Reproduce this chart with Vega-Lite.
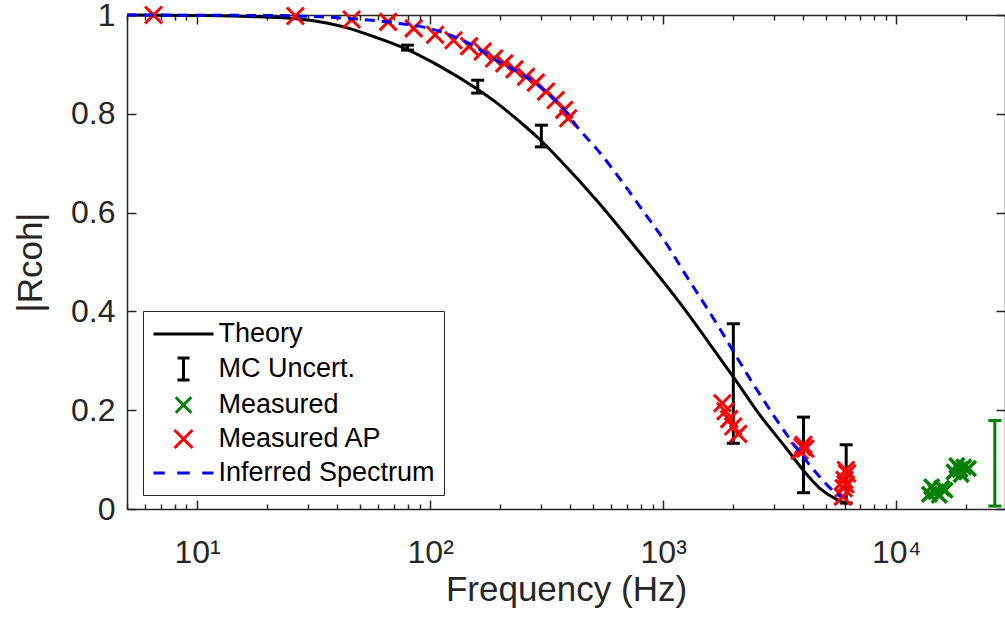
{
  "$schema": "https://vega.github.io/schema/vega-lite/v6.json",
  "width": 878,
  "height": 494,
  "autosize": {"type": "none"},
  "padding": {"left": 127, "top": 15, "right": 0, "bottom": 114},
  "background": "white",
  "config": {
    "view": {"stroke": null},
    "font": "Liberation Sans",
    "axis": {"grid": false, "domainColor": "#262626", "domainWidth": 1.5, "tickColor": "#262626", "tickWidth": 1.5, "labelColor": "#262626", "labelFont": "Liberation Sans", "labelFontSize": 32, "titleFont": "Liberation Sans", "titleFontWeight": "normal", "titleColor": "#262626", "titleFontSize": 35, "labelOverlap": false, "labelFlush": false, "labelBound": false}
  },
  "datasets": {
    "theory": [
      {"f": 5, "v": 1.0}, {"f": 10, "v": 0.999}, {"f": 16.7, "v": 0.997}, {"f": 27.4, "v": 0.992}, {"f": 36, "v": 0.984},
      {"f": 44.9, "v": 0.973}, {"f": 57.5, "v": 0.956}, {"f": 77.3, "v": 0.933}, {"f": 109.3, "v": 0.897}, {"f": 159, "v": 0.85},
      {"f": 198, "v": 0.818}, {"f": 241, "v": 0.785}, {"f": 294, "v": 0.749}, {"f": 358, "v": 0.708}, {"f": 531, "v": 0.619},
      {"f": 736, "v": 0.538}, {"f": 1206, "v": 0.411},
      {"f": 1574, "v": 0.336}, {"f": 2017, "v": 0.265}, {"f": 2583, "v": 0.192}, {"f": 3373, "v": 0.123}, {"f": 3953, "v": 0.081},
      {"f": 4677, "v": 0.043}, {"f": 5524, "v": 0.02}, {"f": 6166, "v": 0.011}
    ],
    "inferred": [
      {"f": 5, "v": 1.0}, {"f": 10, "v": 0.9995}, {"f": 20, "v": 0.999}, {"f": 27, "v": 0.998}, {"f": 45, "v": 0.993},
      {"f": 74, "v": 0.983}, {"f": 99, "v": 0.973}, {"f": 150, "v": 0.94}, {"f": 198, "v": 0.905}, {"f": 258, "v": 0.875},
      {"f": 314, "v": 0.845}, {"f": 376, "v": 0.808}, {"f": 435, "v": 0.769}, {"f": 514, "v": 0.731}, {"f": 692, "v": 0.652},
      {"f": 815, "v": 0.605}, {"f": 1062, "v": 0.528}, {"f": 1211, "v": 0.484}, {"f": 1549, "v": 0.405}, {"f": 1797, "v": 0.356},
      {"f": 1982, "v": 0.322}, {"f": 2583, "v": 0.234}, {"f": 3362, "v": 0.153}, {"f": 4093, "v": 0.099}, {"f": 4700, "v": 0.065},
      {"f": 5330, "v": 0.038}, {"f": 5790, "v": 0.025}
    ],
    "ap": [
      {"f": 6.5, "v": 1.0}, {"f": 26.4, "v": 0.998}, {"f": 46, "v": 0.991}, {"f": 66, "v": 0.986}, {"f": 85, "v": 0.973},
      {"f": 105, "v": 0.96}, {"f": 126, "v": 0.949}, {"f": 147, "v": 0.937}, {"f": 168, "v": 0.926}, {"f": 188, "v": 0.912},
      {"f": 208, "v": 0.902}, {"f": 230, "v": 0.89}, {"f": 258, "v": 0.875}, {"f": 284, "v": 0.863}, {"f": 314, "v": 0.845},
      {"f": 346, "v": 0.828}, {"f": 376, "v": 0.808}, {"f": 391, "v": 0.791},
      {"f": 1795, "v": 0.214}, {"f": 1850, "v": 0.198}, {"f": 1920, "v": 0.182}, {"f": 1997, "v": 0.167}, {"f": 2100, "v": 0.152},
      {"f": 3850, "v": 0.118}, {"f": 3963, "v": 0.125}, {"f": 4080, "v": 0.122}, {"f": 4000, "v": 0.13},
      {"f": 5900, "v": 0.025}, {"f": 5950, "v": 0.042}, {"f": 6000, "v": 0.059}, {"f": 6080, "v": 0.079}, {"f": 6150, "v": 0.072}, {"f": 6050, "v": 0.05}
    ],
    "measured": [
      {"f": 13900, "v": 0.03}, {"f": 14200, "v": 0.045}, {"f": 14800, "v": 0.035}, {"f": 15300, "v": 0.028}, {"f": 15700, "v": 0.042},
      {"f": 16200, "v": 0.038}, {"f": 17700, "v": 0.075}, {"f": 18200, "v": 0.088}, {"f": 18800, "v": 0.08}, {"f": 19000, "v": 0.07},
      {"f": 19500, "v": 0.085}, {"f": 20400, "v": 0.082}
    ],
    "mc": [
      {"f": 80, "lo": 0.929, "hi": 0.939},
      {"f": 160, "lo": 0.842, "hi": 0.868},
      {"f": 300, "lo": 0.733, "hi": 0.777},
      {"f": 2000, "lo": 0.133, "hi": 0.375},
      {"f": 4000, "lo": 0.033, "hi": 0.186},
      {"f": 6100, "lo": 0.012, "hi": 0.13}
    ],
    "merr": [
      {"f": 26500, "lo": 0.006, "hi": 0.179}
    ],
    "legend": [
      {"s": "Theory"}, {"s": "MC Uncert."}, {"s": "Measured"}, {"s": "Measured AP"}, {"s": "Inferred Spectrum"}
    ]
  },
  "layer": [
    {
      "data": {"name": "theory"},
      "mark": {"type": "line", "color": "black", "strokeWidth": 3, "interpolate": "monotone"},
      "encoding": {
        "x": {"field": "f", "type": "quantitative", "scale": {"type": "log", "domain": [5, 29300], "nice": false},
          "axis": {"orient": "bottom", "title": "Frequency (Hz)",
            "values": [5,6,7,8,9,10,20,30,40,50,60,70,80,90,100,200,300,400,500,600,700,800,900,1000,2000,3000,4000,5000,6000,7000,8000,9000,10000,20000],
            "labelExpr": "datum.value == 10 ? '10¹' : datum.value == 100 ? '10²' : datum.value == 1000 ? '10³' : datum.value == 10000 ? '10⁴' : ''",
            "tickSize": {"condition": {"test": "datum.value == 10 || datum.value == 100 || datum.value == 1000 || datum.value == 10000", "value": -9}, "value": -5},
            "labelPadding": 37, "titlePadding": 0}},
        "y": {"field": "v", "type": "quantitative", "scale": {"domain": [0, 1], "nice": false},
          "axis": {"orient": "left", "title": "|Rcoh|", "values": [0, 0.2, 0.4, 0.6, 0.8, 1], "format": "~g", "tickSize": -9, "labelPadding": 21, "titlePadding": 22}}
      }
    },
    {
      "data": {"name": "theory"},
      "mark": {"type": "line", "opacity": 0},
      "encoding": {
        "x": {"field": "f", "type": "quantitative",
          "axis": {"orient": "top", "title": null, "labels": false,
            "values": [5,6,7,8,9,10,20,30,40,50,60,70,80,90,100,200,300,400,500,600,700,800,900,1000,2000,3000,4000,5000,6000,7000,8000,9000,10000,20000],
            "tickSize": {"condition": {"test": "datum.value == 10 || datum.value == 100 || datum.value == 1000 || datum.value == 10000", "value": -9}, "value": -5}}},
        "y": {"field": "v", "type": "quantitative",
          "axis": {"orient": "right", "title": null, "labels": false, "values": [0, 0.2, 0.4, 0.6, 0.8, 1], "tickSize": -9}}
      }
    },
    {
      "data": {"name": "mc"},
      "mark": {"type": "rule", "color": "black", "strokeWidth": 3},
      "encoding": {"x": {"field": "f", "type": "quantitative", "axis": null}, "y": {"field": "lo", "type": "quantitative", "axis": null}, "y2": {"field": "hi"}}
    },
    {
      "data": {"name": "mc"},
      "mark": {"type": "point", "shape": "stroke", "color": "black", "strokeWidth": 3, "size": 169, "opacity": 1},
      "encoding": {"x": {"field": "f", "type": "quantitative", "axis": null}, "y": {"field": "lo", "type": "quantitative", "axis": null}}
    },
    {
      "data": {"name": "mc"},
      "mark": {"type": "point", "shape": "stroke", "color": "black", "strokeWidth": 3, "size": 169, "opacity": 1},
      "encoding": {"x": {"field": "f", "type": "quantitative", "axis": null}, "y": {"field": "hi", "type": "quantitative", "axis": null}}
    },
    {
      "data": {"name": "merr"},
      "mark": {"type": "rule", "color": "#008000", "strokeWidth": 3},
      "encoding": {"x": {"field": "f", "type": "quantitative", "axis": null}, "y": {"field": "lo", "type": "quantitative", "axis": null}, "y2": {"field": "hi"}}
    },
    {
      "data": {"name": "merr"},
      "mark": {"type": "point", "shape": "stroke", "color": "#008000", "strokeWidth": 3, "size": 169, "opacity": 1},
      "encoding": {"x": {"field": "f", "type": "quantitative", "axis": null}, "y": {"field": "lo", "type": "quantitative", "axis": null}}
    },
    {
      "data": {"name": "merr"},
      "mark": {"type": "point", "shape": "stroke", "color": "#008000", "strokeWidth": 3, "size": 169, "opacity": 1},
      "encoding": {"x": {"field": "f", "type": "quantitative", "axis": null}, "y": {"field": "hi", "type": "quantitative", "axis": null}}
    },
    {
      "data": {"name": "measured"},
      "mark": {"type": "point", "shape": "M-1,-1L1,1M-1,1L1,-1", "filled": false, "color": "#008000", "strokeWidth": 3.5, "size": 225, "opacity": 1},
      "encoding": {"x": {"field": "f", "type": "quantitative", "axis": null}, "y": {"field": "v", "type": "quantitative", "axis": null}}
    },
    {
      "data": {"name": "ap"},
      "mark": {"type": "point", "shape": "M-1,-1L1,1M-1,1L1,-1", "filled": false, "color": "#ff0000", "strokeWidth": 3, "size": 289, "opacity": 1},
      "encoding": {"x": {"field": "f", "type": "quantitative", "axis": null}, "y": {"field": "v", "type": "quantitative", "axis": null}}
    },
    {
      "data": {"name": "inferred"},
      "mark": {"type": "line", "color": "#0000ff", "strokeWidth": 3, "strokeDash": [10, 7], "interpolate": "monotone"},
      "encoding": {"x": {"field": "f", "type": "quantitative", "axis": null}, "y": {"field": "v", "type": "quantitative", "axis": null}}
    },
    {
      "data": {"name": "legend"},
      "mark": {"type": "point", "filled": false, "opacity": 0, "strokeWidth": 3},
      "encoding": {
        "color": {"field": "s", "type": "nominal",
          "scale": {"domain": ["Theory", "MC Uncert.", "Measured", "Measured AP", "Inferred Spectrum"], "range": ["#000000", "#000000", "#008000", "#ff0000", "#0000ff"]},
          "legend": {"orient": "none", "legendX": 16, "legendY": 296, "title": null, "symbolSize": 625, "symbolOffset": 17.5, "labelOffset": 21,
            "symbolStrokeWidth": 3, "symbolOpacity": 1, "symbolFillColor": "transparent", "labelFontSize": 27, "labelFont": "Liberation Sans", "labelColor": "#000000",
            "rowPadding": 5, "padding": 9, "strokeColor": "#262626", "fillColor": "white", "labelLimit": 400}},
        "shape": {"field": "s", "type": "nominal",
          "scale": {"domain": ["Theory", "MC Uncert.", "Measured", "Measured AP", "Inferred Spectrum"],
            "range": ["M-2.4,0H2.4", "M-0.48,-0.88H0.48M0,-0.88V0.88M-0.48,0.88H0.48", "M-0.62,-0.62L0.62,0.62M-0.62,0.62L0.62,-0.62", "M-0.72,-0.72L0.72,0.72M-0.72,0.72L0.72,-0.72", "M-2.4,0H-1.5M-0.5,0H0.5M1.5,0H2.4"]}}
      }
    }
  ]
}
